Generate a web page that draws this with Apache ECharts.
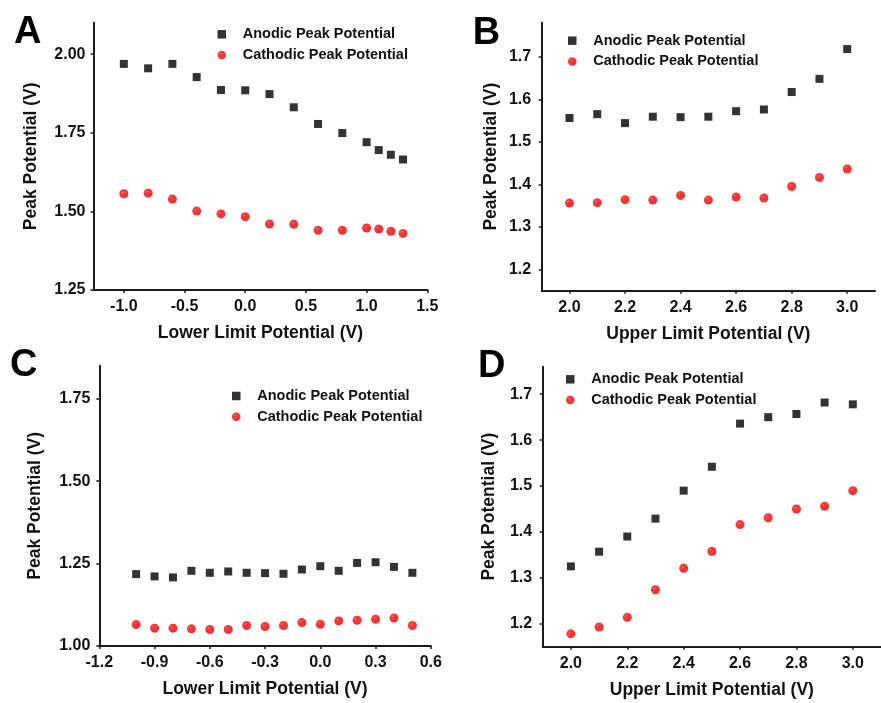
<!DOCTYPE html>
<html>
<head>
<meta charset="utf-8">
<script src="https://cdn.jsdelivr.net/npm/echarts@6/dist/echarts.min.js"></script>
<style>
  html, body { margin: 0; padding: 0; background: #fff; }
  #chart { width: 881px; height: 703px; }
</style>
</head>
<body>
<div id="chart"></div>
<script>
// Panel A: peak potential vs lower limit potential
const aX = [-1.0, -0.8, -0.6, -0.4, -0.2, 0.0, 0.2, 0.4, 0.6, 0.8, 1.0, 1.1, 1.2, 1.3];
const aAnodic = [1.969, 1.955, 1.969, 1.927, 1.886, 1.885, 1.873, 1.831, 1.778, 1.749, 1.720, 1.695, 1.680, 1.665];
const aCathodic = [1.556, 1.558, 1.539, 1.501, 1.492, 1.483, 1.460, 1.459, 1.440, 1.440, 1.447, 1.444, 1.437, 1.430];

// Panel B: peak potential vs upper limit potential
const bX = [2.0, 2.1, 2.2, 2.3, 2.4, 2.5, 2.6, 2.7, 2.8, 2.9, 3.0];
const bAnodic = [1.556, 1.565, 1.544, 1.559, 1.558, 1.559, 1.572, 1.576, 1.617, 1.648, 1.718];
const bCathodic = [1.356, 1.357, 1.364, 1.363, 1.374, 1.363, 1.370, 1.368, 1.395, 1.416, 1.436];

// Panel C: peak potential vs lower limit potential
const cX = [-1.0, -0.9, -0.8, -0.7, -0.6, -0.5, -0.4, -0.3, -0.2, -0.1, 0.0, 0.1, 0.2, 0.3, 0.4, 0.5];
const cAnodic = [1.218, 1.211, 1.208, 1.228, 1.222, 1.226, 1.222, 1.221, 1.219, 1.232, 1.242, 1.228, 1.252, 1.254, 1.240, 1.222];
const cCathodic = [1.065, 1.054, 1.054, 1.052, 1.050, 1.050, 1.062, 1.059, 1.062, 1.071, 1.066, 1.076, 1.078, 1.081, 1.085, 1.062];

// Panel D: peak potential vs upper limit potential
const dX = [2.0, 2.1, 2.2, 2.3, 2.4, 2.5, 2.6, 2.7, 2.8, 2.9, 3.0];
const dAnodic = [1.325, 1.357, 1.390, 1.429, 1.490, 1.542, 1.636, 1.650, 1.657, 1.682, 1.678];
const dCathodic = [1.178, 1.193, 1.214, 1.274, 1.321, 1.358, 1.416, 1.431, 1.450, 1.456, 1.490];

// Tick positions
const aXTicks = [-1.0, -0.5, 0.0, 0.5, 1.0, 1.5];
const aYTicks = [1.25, 1.50, 1.75, 2.00];
const bXTicks = [2.0, 2.2, 2.4, 2.6, 2.8, 3.0];
const bYTicks = [1.2, 1.3, 1.4, 1.5, 1.6, 1.7];
const cXTicks = [-1.2, -0.9, -0.6, -0.3, 0.0, 0.3, 0.6];
const cYTicks = [1.00, 1.25, 1.50, 1.75];
const dXTicks = [2.0, 2.2, 2.4, 2.6, 2.8, 3.0];
const dYTicks = [1.2, 1.3, 1.4, 1.5, 1.6, 1.7];

const seriesNames = ['Anodic Peak Potential', 'Cathodic Peak Potential'];
const panelLetters = ['A', 'B', 'C', 'D'];
const xTitles = ['Lower Limit Potential (V)', 'Upper Limit Potential (V)', 'Lower Limit Potential (V)', 'Upper Limit Potential (V)'];
const yTitle = 'Peak Potential (V)';

const FONT = '"Liberation Sans", Arial, sans-serif';
const INK = '#111';

const panels = [
  { x: aX, an: aAnodic, ca: aCathodic, xr: [-1.25, 1.5], yr: [1.25, 2.1], xt: aXTicks, yt: aYTicks, xd: 1, yd: 2,
    grid: { left: 93.5, top: 22.7, width: 333.8, height: 267.3 }, yGap: 53, yMargin: 8, legend: { left: 217.5, top: 26.3 } },
  { x: bX, an: bAnodic, ca: bCathodic, xr: [1.9, 3.1], yr: [1.15, 1.78], xt: bXTicks, yt: bYTicks, xd: 1, yd: 1,
    grid: { left: 541.7, top: 22.7, width: 333.3, height: 268 }, yGap: 41.5, yMargin: 10.5, legend: { left: 568, top: 32.7 } },
  { x: cX, an: cAnodic, ca: cCathodic, xr: [-1.2, 0.6], yr: [1.0, 1.85], xt: cXTicks, yt: cYTicks, xd: 1, yd: 2,
    grid: { left: 99.3, top: 365.7, width: 331.5, height: 280.3 }, yGap: 55, yMargin: 9, legend: { left: 232, top: 388 } },
  { x: dX, an: dAnodic, ca: dCathodic, xr: [1.9, 3.1], yr: [1.15, 1.76], xt: dXTicks, yt: dYTicks, xd: 1, yd: 1,
    grid: { left: 542.7, top: 366.7, width: 348.6, height: 280 }, yGap: 45, yMargin: 10.5, legend: { left: 566, top: 371.3 } }
];

// Glossy red sphere fill for the cathodic markers
const sphereRed = {
  type: 'radial', x: 0.36, y: 0.34, r: 0.62,
  colorStops: [
    { offset: 0, color: '#ffa0a0' },
    { offset: 0.16, color: '#ff0a0a' },
    { offset: 1, color: '#e40000' }
  ]
};

// Square outline kept square inside the legend item box
const squareIcon = 'path://M0,0H10V10H0Z';

const zip = (xs, ys) => xs.map((x, i) => [x, ys[i]]);

const option = {
  animation: false,
  backgroundColor: '#fff',
  grid: [], xAxis: [], yAxis: [], series: [], legend: [],
  graphic: []
};

panels.forEach((p, i) => {
  option.grid.push(Object.assign({ containLabel: false }, p.grid));
  const axisLine = { show: true, onZero: false, lineStyle: { color: '#1a1a1a', width: 2 } };
  const axisTick = { show: true, inside: false, length: 3, lineStyle: { color: '#1a1a1a', width: 1.5 } };
  option.xAxis.push({
    type: 'value', gridIndex: i, min: p.xr[0], max: p.xr[1],
    axisLine, splitLine: { show: false },
    axisTick: Object.assign({ customValues: p.xt }, axisTick),
    axisLabel: { customValues: p.xt, margin: 9, color: INK, fontFamily: FONT, fontWeight: 'bold', fontSize: 16,
      formatter: v => v.toFixed(p.xd) },
    name: xTitles[i], nameLocation: 'middle', nameGap: 34,
    nameTextStyle: { color: INK, fontFamily: FONT, fontWeight: 'bold', fontSize: 17.5 }
  });
  option.yAxis.push({
    type: 'value', gridIndex: i, min: p.yr[0], max: p.yr[1],
    axisLine, splitLine: { show: false },
    axisTick: Object.assign({ customValues: p.yt }, axisTick),
    axisLabel: { customValues: p.yt, margin: p.yMargin, color: INK, fontFamily: FONT, fontWeight: 'bold', fontSize: 16,
      formatter: v => v.toFixed(p.yd) },
    name: yTitle, nameLocation: 'middle', nameGap: p.yGap,
    nameTextStyle: { color: INK, fontFamily: FONT, fontWeight: 'bold', fontSize: 17.5 }
  });
  option.series.push({
    type: 'scatter', name: seriesNames[0], xAxisIndex: i, yAxisIndex: i,
    symbol: 'rect', symbolSize: 8, itemStyle: { color: '#000' },
    data: zip(p.x, p.an)
  });
  option.series.push({
    type: 'scatter', name: seriesNames[1], xAxisIndex: i, yAxisIndex: i,
    symbol: 'circle', symbolSize: 9, itemStyle: { color: sphereRed },
    data: zip(p.x, p.ca)
  });
  option.legend.push({
    data: [{ name: seriesNames[0], icon: squareIcon }, { name: seriesNames[1], icon: 'circle' }],
    orient: 'vertical', left: p.legend.left, top: p.legend.top,
    padding: 0, itemWidth: 32, itemHeight: 8.5, itemGap: 4.7, selectedMode: false,
    symbolKeepAspect: true,
    textStyle: { color: INK, fontFamily: FONT, fontWeight: 'bold', fontSize: 14.5, lineHeight: 16, padding: 0 }
  });
});

// Panel letters
const letterPos = [[14, 33], [472.7, 33.5], [10, 366], [478, 366.5]];
panelLetters.forEach((t, i) => {
  option.graphic.push({
    type: 'text', left: letterPos[i][0], top: letterPos[i][1] - 19,
    style: { text: t, font: 'bold 38px ' + FONT, fill: '#000' }
  });
});

const chart = echarts.init(document.getElementById('chart'), null, { renderer: 'canvas' });
chart.setOption(option);
</script>
</body>
</html>
